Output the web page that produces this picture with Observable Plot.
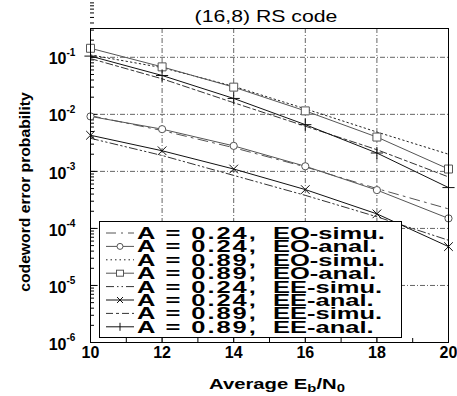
<!DOCTYPE html>
<html>
<head>
<meta charset="utf-8">
<script src="https://cdn.jsdelivr.net/npm/d3@7"></script>
<script src="https://cdn.jsdelivr.net/npm/@observablehq/plot@0.6"></script>
<style>
  html, body { margin: 0; padding: 0; background: #fff; }
  #chart svg { display: block; }
</style>
</head>
<body>
<div id="chart"></div>
<script>
// ---- data ----
const ebn0 = [10, 12, 14, 16, 18, 20];
const eoSimu024 = [0.0095, 0.0052, 0.0026, 0.0012, 0.0005, 0.00022];
const eoAnal024 = [0.0092, 0.0055, 0.0028, 0.00123, 0.00047, 0.00015];
const eoSimu089 = [0.11, 0.066, 0.031, 0.0125, 0.0049, 0.002];
const eoAnal089 = [0.144, 0.068, 0.030, 0.0115, 0.004, 0.0011];
const eeSimu024 = [0.0038, 0.0019, 0.00085, 0.00038, 0.00016, 0.000062];
const eeAnal024 = [0.0043, 0.0023, 0.0011, 0.00048, 0.00018, 0.000048];
const eeSimu089 = [0.095, 0.042, 0.016, 0.0062, 0.0024, 0.0008];
const eeAnal089 = [0.105, 0.048, 0.019, 0.0066, 0.0021, 0.00052];
const legendA = ["A = 0.24,", "A = 0.24,", "A = 0.89,", "A = 0.89,", "A = 0.24,", "A = 0.24,", "A = 0.89,", "A = 0.89,"];
const legendKind = ["EO-simu.", "EO-anal.", "EO-simu.", "EO-anal.", "EE-simu.", "EE-anal.", "EE-simu.", "EE-anal."];
const xTicks = [10, 12, 14, 16, 18, 20];
const xGrid = [12, 14, 16, 18];
const xMinor = [11, 12, 13, 14, 15, 16, 17, 18, 19];
const yDecades = [1e-6, 1e-5, 1e-4, 1e-3, 1e-2, 1e-1];
const yExp = ["-6", "-5", "-4", "-3", "-2", "-1"];
const yGrid = [1e-5, 1e-4, 1e-3, 1e-2, 1e-1];

// ---- styles ----
const series = [
  {vals: eoSimu024, stroke: "#555", dash: "10,5,2,5", symbol: null},
  {vals: eoAnal024, stroke: "#555", dash: null, symbol: "circle"},
  {vals: eoSimu089, stroke: "#222", dash: "1.5,3", symbol: null},
  {vals: eoAnal089, stroke: "#555", dash: null, symbol: "square"},
  {vals: eeSimu024, stroke: "#333", dash: "8,3,1.5,3,1.5,3", symbol: null},
  {vals: eeAnal024, stroke: "#111", dash: null, symbol: "times"},
  {vals: eeSimu089, stroke: "#333", dash: "7,3,3,3", symbol: null},
  {vals: eeAnal089, stroke: "#111", dash: null, symbol: "plus"}
];

const FONT = "'Liberation Sans', Arial, Helvetica, sans-serif";
const W = 457, H = 396, mL = 90, mR = 9, mT = 28, mB = 54;
const fw = W - mL - mR, fh = H - mT - mB;

// y minor ticks
const yMinor = [];
for (let e = -6; e < 0; e++) for (let k = 2; k <= 9; k++) yMinor.push(k * Math.pow(10, e));

const marks = [
  Plot.ruleX(xGrid, {stroke: "#222", strokeWidth: 0.7, strokeDasharray: "5,2,1,2"}),
  Plot.ruleY(yGrid, {stroke: "#222", strokeWidth: 0.7, strokeDasharray: "5,2,1,2"}),
  Plot.tickY(yDecades, {y: d => d, insetRight: fw - 7, stroke: "#000"}),
  Plot.tickY(yMinor, {y: d => d, insetRight: fw - 4, stroke: "#000"}),
  Plot.tickX(xMinor, {x: d => d, insetTop: fh - 4, stroke: "#000"})
];
series.forEach(s => {
  const rows = ebn0.map((x, i) => ({x, y: s.vals[i]}));
  marks.push(Plot.line(rows, {x: "x", y: "y", stroke: s.stroke, strokeWidth: 1, strokeDasharray: s.dash || undefined}));
  if (s.symbol) {
    const size = s.symbol === "square" ? 4.5 : s.symbol === "circle" ? 3.6 : 4;
    marks.push(Plot.dot(rows, {x: "x", y: "y", symbol: s.symbol, r: size, stroke: s.stroke, strokeWidth: 1, fill: (s.symbol === "circle" || s.symbol === "square") ? "white" : "none"}));
  }
});
marks.push(
  Plot.frame({stroke: "#000", strokeWidth: 1}),
  Plot.text(yDecades, {y: d => d, frameAnchor: "left", dx: -24, dy: 2, text: () => "10", textAnchor: "end", fontSize: 16, fontWeight: "bold", fill: "#000"}),
  Plot.text(yDecades, {y: d => d, frameAnchor: "left", dx: -24, dy: -5, text: (d, i) => yExp[i], textAnchor: "start", fontSize: 10, fontWeight: "bold", fill: "#000"}),
  Plot.text(xTicks, {x: d => d, frameAnchor: "bottom", dy: 15, text: d => String(d), fontSize: 16, fontWeight: "bold", fill: "#000"})
);

const chart = Plot.plot({
  width: W, height: H,
  marginLeft: mL, marginRight: mR, marginTop: mT, marginBottom: mB,
  style: {background: "white", overflow: "visible", fontFamily: FONT},
  x: {domain: [10, 20], axis: null},
  y: {type: "log", domain: [1e-6, 0.32], axis: null},
  marks
});
document.getElementById("chart").appendChild(chart);

// ---- annotations: title, axis labels, legend ----
const svg = d3.select(chart);
svg.append("text").attr("transform", "translate(266,22) scale(1.25,1)")
  .attr("text-anchor", "middle").attr("font-family", FONT).attr("font-size", 17).attr("fill", "#000")
  .text("(16,8) RS code");

const xl = svg.append("text").attr("transform", "translate(277,389) scale(1.35,1)")
  .attr("text-anchor", "middle").attr("font-family", FONT).attr("font-size", 15).attr("font-weight", "bold").attr("fill", "#000");
xl.append("tspan").text("Average E");
xl.append("tspan").attr("font-size", 11).attr("dy", 3).text("b");
xl.append("tspan").attr("dy", -3).text("/N");
xl.append("tspan").attr("font-size", 11).attr("dy", 3).text("0");

svg.append("text").attr("transform", "translate(30,192) rotate(-90) scale(1.12,1)")
  .attr("text-anchor", "middle").attr("font-family", FONT).attr("font-size", 14).attr("font-weight", "bold").attr("fill", "#000")
  .text("codeword error probability");

const lg = svg.append("g");
lg.append("rect").attr("x", 99.5).attr("y", 221.5).attr("width", 302).attr("height", 116)
  .attr("fill", "white").attr("stroke", "#000").attr("stroke-width", 1);
series.forEach((s, i) => {
  const cy = 233 + 13.4 * i;
  lg.append("line").attr("x1", 106).attr("x2", 134).attr("y1", cy).attr("y2", cy)
    .attr("stroke", s.stroke).attr("stroke-width", 1).attr("stroke-dasharray", s.dash || null);
  if (s.symbol === "circle") lg.append("circle").attr("cx", 120).attr("cy", cy).attr("r", 3).attr("fill", "white").attr("stroke", s.stroke);
  if (s.symbol === "square") lg.append("rect").attr("x", 116.5).attr("y", cy - 3).attr("width", 7).attr("height", 6).attr("fill", "white").attr("stroke", s.stroke);
  if (s.symbol === "times") lg.append("path").attr("d", `M117,${cy-3}L123,${cy+3}M117,${cy+3}L123,${cy-3}`).attr("stroke", s.stroke);
  if (s.symbol === "plus") lg.append("path").attr("d", `M120,${cy-4}L120,${cy+4}`).attr("stroke", s.stroke);
  lg.append("text").attr("transform", `translate(137,${cy + 6}) scale(1.5,1)`)
    .attr("text-anchor", "start").attr("font-family", FONT)
    .attr("font-size", 17).attr("font-weight", "bold").attr("letter-spacing", 1.3).attr("fill", "#000")
    .text(legendA[i]);
  lg.append("text").attr("transform", `translate(273,${cy + 6}) scale(1.5,1)`)
    .attr("text-anchor", "start").attr("font-family", FONT)
    .attr("font-size", 17).attr("font-weight", "bold").attr("fill", "#000")
    .text(legendKind[i]);
});
</script>
</body>
</html>
